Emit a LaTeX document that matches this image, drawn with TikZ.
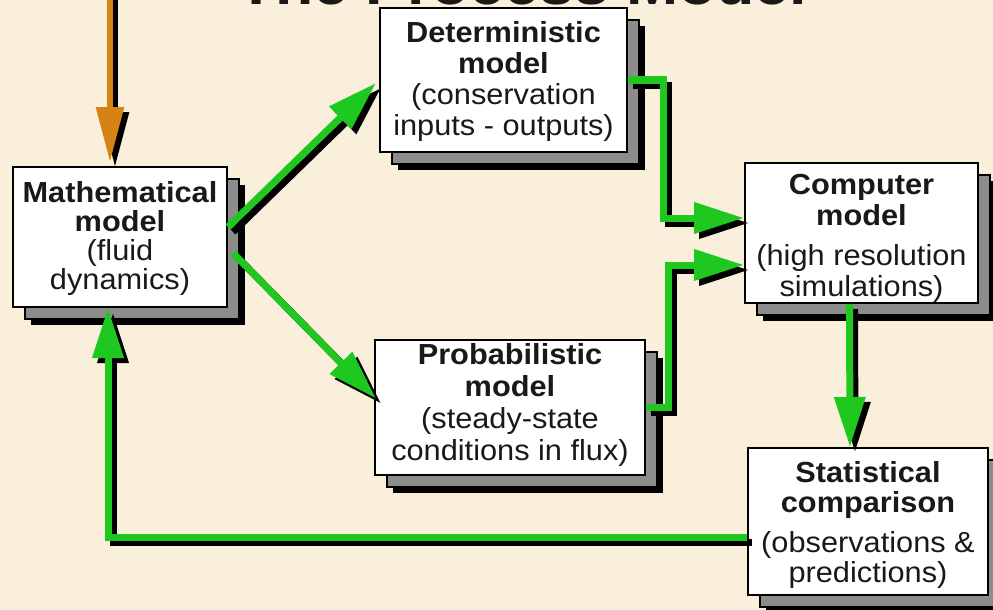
\documentclass[tikz,border=0pt]{standalone}
\usepackage{fontspec}
\setmainfont{Liberation Sans}[FakeStretch=1.06]
\usetikzlibrary{arrows.meta,calc,shadows}
\definecolor{bgc}{RGB}{249,239,218}
\definecolor{gr}{RGB}{30,200,30}
\definecolor{org}{RGB}{215,130,20}
\definecolor{shg}{RGB}{140,140,140}
\definecolor{txt}{RGB}{25,25,25}
\colorlet{linkcol}{gr}
\colorlet{olinkcol}{org}
\tikzset{
  box/.style={draw=black, line width=2pt, fill=white, inner sep=0pt,
    drop shadow={shadow xshift=18pt, shadow yshift=-18pt, fill=black, draw=none, opacity=1},
    drop shadow={shadow xshift=12pt, shadow yshift=-12pt, fill=shg, draw=black, line width=1.5pt, opacity=1}},
  boxtext/.style={inner sep=0pt, align=center, text=txt, anchor=north,
    font=\fontsize{29}{#1}\selectfont},
  link/.style={draw=linkcol, line width=7pt, -{Triangle[length=50pt,width=30pt]}},
  olink/.style={draw=olinkcol, line width=6pt, -{Triangle[length=55pt,width=27pt]}},
  titlefont/.style={font=\bfseries\fontsize{59}{59}\selectfont, text=txt}
}
\newcommand\alllinks{%
  \draw[olink] (otop) -- ($(m.north)+(-10,-4)$);
  \draw[link] ($(m.east)+(0,-10)$) -- ($(d.west)+(-3,3)$);
  \draw[link] ($(m.east)+(5,16)$) -- ($(p.west)+(2,-9)$);
  \draw[link] (d.east) -- ++(35,0) |- ($(c.west)+(0,-15)$);
  \draw[link] (p.east) -- ++(22,0) |- ($(c.west)+(0,32)$);
  \draw[link] ($(c.south)+(-12,0)$) -- ($(s.north)+(-18,0)$);
  \draw[link] ($(s.west)+(0,16)$) -| ($(m.south)+(-12,0)$);
}
\begin{document}
\begin{tikzpicture}[x=1pt,y=-1pt]
  \useasboundingbox (0,0) rectangle (993,610);
  \clip (0,0) rectangle (993,610);
  \fill[bgc] (0,0) rectangle (993,610);
  \coordinate (otop) at (110,-5);
  \node[titlefont, anchor=base] (title) at (522,5) {The Process Model};

  \node[box, minimum width=214pt, minimum height=140pt] (m) at (120,237) {};
  \node[box, minimum width=247pt, minimum height=144pt] (d) at (503.5,80) {};
  \node[box, minimum width=233pt, minimum height=140pt] (c) at (861.5,233) {};
  \node[box, minimum width=270pt, minimum height=135pt] (p) at (510,407.5) {};
  \node[box, minimum width=240pt, minimum height=147pt] (s) at (868,521.5) {};

  \node[boxtext=29] (mt) at ($(m.north)+(0,15)$)
    {\textbf{Mathematical}\\\textbf{model}\\(fluid\\dynamics)};
  \node[boxtext=31] (dt) at ($(d.north)+(0,14)$)
    {\textbf{Deterministic}\\\textbf{model}\\(conservation\\inputs - outputs)};
  \node[boxtext=31] (ct) at ($(c.north)+(0,12)$)
    {\textbf{Computer}\\\textbf{model}\\[9pt](high resolution\\simulations)};
  \node[boxtext=32] (pt) at ($(p.north)+(0,4)$)
    {\textbf{Probabilistic}\\\textbf{model}\\(steady-state\\conditions in flux)};
  \node[boxtext=30] (st) at ($(s.north)+(0,14)$)
    {\textbf{Statistical}\\\textbf{comparison}\\[10pt](observations \&\\predictions)};

  \begin{scope}[transform canvas={shift={(5pt,-5pt)}}]
    \colorlet{linkcol}{black}\colorlet{olinkcol}{black}
    \alllinks
  \end{scope}
  \alllinks
\end{tikzpicture}
\end{document}
